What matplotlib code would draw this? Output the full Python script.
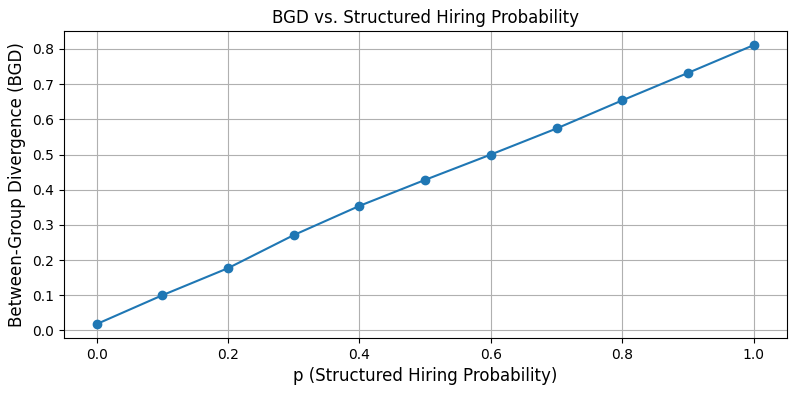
import matplotlib
matplotlib.use("Agg")
import matplotlib.pyplot as plt

p_values = [0.0, 0.1, 0.2, 0.3, 0.4, 0.5, 0.6, 0.7, 0.8, 0.9, 1.0]
bgd_values = [0.018, 0.100, 0.177, 0.271, 0.354, 0.428, 0.500, 0.574, 0.654, 0.732, 0.811]

fig, ax = plt.subplots(figsize=(7.97, 3.94), dpi=100)
ax.plot(p_values, bgd_values, marker='o', color='#1f77b4')
ax.set_title("BGD vs. Structured Hiring Probability")
ax.set_xlabel("p (Structured Hiring Probability)", fontsize=12)
ax.set_ylabel("Between-Group Divergence (BGD)", fontsize=12)
ax.grid(True)
fig.subplots_adjust(left=0.080, right=0.987, top=0.921, bottom=0.142)
fig.savefig("out.png", dpi=100)
